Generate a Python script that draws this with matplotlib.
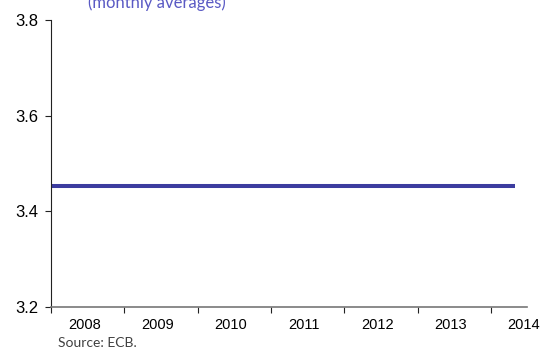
import numpy as np
import pandas as pd
import matplotlib
matplotlib.use('Agg')
import matplotlib.pyplot as plt
import matplotlib.dates as mdates

# monthly averages, Jan 2008 - May 2014 (rate pegged)
months = pd.date_range('2008-01-01', '2014-05-01', freq='MS')
rate = [3.4528] * len(months)

years = list(range(2008, 2015))
yticks = [3.2, 3.4, 3.6, 3.8]

fig = plt.figure(figsize=(5.43, 3.6), dpi=100)
ax = fig.add_axes([0.094, 0.147, 0.877, 0.797])

ax.plot(months, rate, color='#3c3c9f', lw=2.9, solid_capstyle='butt')

ax.set_ylim(3.2, 3.8)
ax.set_yticks(yticks)
ax.set_yticklabels(['%.1f' % v for v in yticks], fontsize=12, family='Liberation Sans')

ax.set_xlim(pd.Timestamp('2008-01-01'), pd.Timestamp('2014-07-01'))
ax.set_xticks([pd.Timestamp('%d-01-01' % y) for y in years])
ax.set_xticklabels([])
ax.set_xticks([pd.Timestamp('%d-06-15' % y) for y in years], minor=True)
ax.set_xticklabels([str(y) for y in years], minor=True, fontsize=10.5, family='Liberation Sans')
ax.tick_params(axis='x', which='minor', length=0, pad=8)
ax.tick_params(axis='x', which='major', length=4, color='#222222')
ax.tick_params(axis='y', length=4, color='#222222', pad=5)

for s in ['top', 'right']:
    ax.spines[s].set_visible(False)
ax.spines['left'].set_color('#222222')
ax.spines['bottom'].set_color('#777777')
ax.spines['bottom'].set_linewidth(1.2)

fig.text(0.162, 0.978, '(monthly averages)', color='#5a5ac4', fontsize=12, family='Lato')
fig.text(0.107, 0.035, 'Source: ECB.', color='#404040', fontsize=10, family='Lato')

fig.savefig('out.png', dpi=100)
